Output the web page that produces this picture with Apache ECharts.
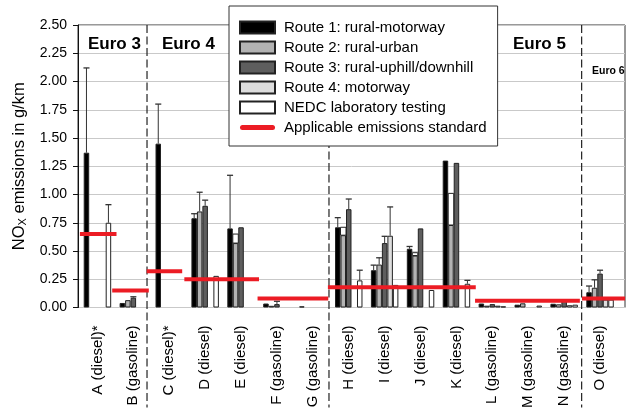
<!DOCTYPE html>
<html>
<head>
<meta charset="utf-8">
<script src="https://cdn.jsdelivr.net/npm/echarts@6/dist/echarts.min.js"></script>
<style>
  html, body { margin: 0; padding: 0; background: #fff; }
  #chart { width: 633px; height: 414px; }
</style>
</head>
<body>
<div id="chart"></div>
<script>
// Vehicles tested, grouped by emission class
const categories = ['A (diesel)*', 'B (gasoline)', 'C (diesel)*', 'D (diesel)', 'E (diesel)',
  'F (gasoline)', 'G (gasoline)', 'H (diesel)', 'I (diesel)', 'J (diesel)', 'K (diesel)',
  'L (gasoline)', 'M (gasoline)', 'N (gasoline)', 'O (diesel)'];

const routeNames = ['Route 1: rural-motorway', 'Route 2: rural-urban', 'Route 3: rural-uphill/downhill',
  'Route 4: motorway', 'NEDC laboratory testing'];
const standardName = 'Applicable emissions standard';

// Mean NOx emissions in g/km (null = not tested)
const route1 = [1.37, 0.04, 1.45, 0.79, 0.70, 0.035, 0.01, 0.71, 0.33, 0.52, 1.30, 0.035, 0.025, 0.033, 0.135];
const route2 = [null, 0.065, null, 0.85, 0.57, 0.015, null, 0.64, 0.38, 0.46, 0.73, 0.016, 0.037, 0.028, 0.175];
const route3 = [null, 0.087, null, 0.90, 0.71, 0.03, null, 0.87, 0.57, 0.70, 1.28, 0.03, null, 0.075, 0.30];
const route4 = [null, null, null, null, null, null, null, null, 0.635, null, null, 0.016, null, 0.02, 0.07];
const nedc   = [0.75, null, null, 0.28, null, null, null, 0.24, 0.20, 0.155, 0.21, 0.01, 0.017, 0.025, 0.07];

// Upper ends of the error bars
const route1Err = [2.12, null, 1.80, 0.83, 1.17, null, null, 0.795, 0.375, 0.54, null, null, null, null, 0.19];
const route2Err = [null, null, null, 1.02, null, null, null, null, 0.44, null, null, null, null, null, 0.245];
const route3Err = [null, 0.095, null, 0.95, null, 0.055, null, 0.96, 0.63, null, null, null, null, null, 0.33];
const route4Err = [null, null, null, null, null, null, null, null, 0.89, null, null, null, null, null, null];
const nedcErr   = [0.91, null, null, null, null, null, null, 0.33, null, null, 0.24, null, null, null, null];
// Route 2 ranges drawn as an open box above the bar
const route2Range = [null, null, null, null, 0.65, null, null, 0.71, null, 0.485, 1.01, null, null, null, null];

// Emission limits: level (g/km) and the span of vehicles (category units) they apply to
const standardLevel = [0.65, 0.15, 0.32, 0.25, 0.08, 0.18, 0.06, 0.08];
const standardFrom  = [-0.49, 0.41, 1.37, 2.42, 4.46, 6.42, 10.52, 13.5];
const standardTo    = [0.53, 1.43, 2.36, 4.50, 6.43, 10.54, 13.44, 14.7];

// Boundaries between Euro classes (category units)
const euroBounds = [1.38, 6.45, 13.49];
const euroLabels = ['Euro 3', 'Euro 4', 'Euro 5', 'Euro 6'];

const yTicks = [0, 0.25, 0.5, 0.75, 1.0, 1.25, 1.5, 1.75, 2.0, 2.25, 2.5];

const FONT = '"Liberation Sans", Arial, Helvetica, sans-serif';
const routeColors = ['#000000', '#b3b3b3', '#5e5e5e', '#dddddd', '#ffffff'];
const RED = '#ec1c24';
const CAT_GAP = 0.235;

const routeValues = [route1, route2, route3, route4, nedc];
const routeErrors = [route1Err, route2Err, route3Err, route4Err, nedcErr];

const errorData = [];
routeErrors.forEach((errs, k) => {
  errs.forEach((hi, c) => {
    if (hi != null && routeValues[k][c] != null) errorData.push([c, k, routeValues[k][c], hi, 0]);
  });
});
route2Range.forEach((hi, c) => {
  if (hi != null) errorData.push([c, 1, route2[c], hi, 1]);
});

const standardData = standardLevel.map((v, i) => [standardFrom[i], standardTo[i], v]);

const barSeries = routeValues.map((vals, k) => ({
  type: 'bar',
  name: routeNames[k],
  xAxisIndex: 0,
  yAxisIndex: 0,
  data: vals.map(v => (v == null ? '-' : v)),
  barGap: '0%',
  barCategoryGap: (CAT_GAP * 100) + '%',
  itemStyle: { color: routeColors[k], borderColor: '#222', borderWidth: 1 },
  z: 3
}));

const chart = echarts.init(document.getElementById('chart'), null, { renderer: 'canvas' });

chart.setOption({
  animation: false,
  textStyle: { fontFamily: FONT },
  grid: [
    { left: 79.5, right: 15, top: 25, bottom: 106.5 },
    { left: 78, right: 8, top: 25, bottom: 106.5, show: true, borderColor: '#333', borderWidth: 1 }
  ],
  xAxis: [
    {
      type: 'category', gridIndex: 0, data: categories,
      axisLine: { show: false },
      axisTick: { alignWithLabel: true, length: 6, lineStyle: { color: '#333' } },
      axisLabel: {
        rotate: 90, interval: 0, margin: 18, fontSize: 15, color: '#000', fontFamily: FONT
      }
    },
    { type: 'value', gridIndex: 1, min: -0.543, max: 14.698, show: false }
  ],
  yAxis: [
    { type: 'value', gridIndex: 0, min: 0, max: 2.5, show: false },
    {
      type: 'value', gridIndex: 1, min: 0, max: 2.5, interval: 0.25,
      axisLine: { show: true, onZero: false, lineStyle: { color: '#111' } },
      axisTick: { show: true, length: 5, lineStyle: { color: '#111' } },
      axisLabel: {
        margin: 11, fontSize: 14, color: '#000', fontFamily: FONT,
        formatter: v => yTicks.includes(+v.toFixed(2)) ? v.toFixed(2) : ''
      },
      splitLine: { show: true, lineStyle: { color: '#c9c9c9', width: 1 } },
      name: '{a|NO}{b|X}{a| emissions in g/km}',
      nameLocation: 'middle',
      nameGap: 33,
      nameTextStyle: {
        fontFamily: FONT,
        rich: {
          a: { fontSize: 16.5, color: '#000', fontFamily: FONT },
          b: { fontSize: 11, color: '#000', fontFamily: FONT, verticalAlign: 'bottom', padding: [8, 0, 0, 0] }
        }
      }
    }
  ],
  legend: {
    orient: 'vertical',
    left: 229, top: 6,
    padding: [14, 11, 11, 10],
    itemWidth: 35, itemHeight: 12, itemGap: 5,
    backgroundColor: '#fff', borderColor: '#333', borderWidth: 1,
    selectedMode: false,
    textStyle: { fontSize: 15, color: '#000', fontFamily: FONT, padding: [0, 0, 0, 4] },
    data: routeNames.map(n => ({ name: n, icon: 'rect' })).concat([{
      name: standardName,
      icon: 'path://M2.5,0 L32.5,0 A2.5,2.5 0 0 1 32.5,5 L2.5,5 A2.5,2.5 0 0 1 2.5,0 Z',
      itemStyle: { color: RED, borderWidth: 0 }
    }]),
    z: 20
  },
  graphic: [
    { type: 'text', left: 88, top: 36, style: { text: euroLabels[0], font: 'bold 17px ' + FONT, fill: '#000' } },
    { type: 'text', left: 162, top: 36, style: { text: euroLabels[1], font: 'bold 17px ' + FONT, fill: '#000' } },
    { type: 'text', left: 513, top: 36, style: { text: euroLabels[2], font: 'bold 17px ' + FONT, fill: '#000' } },
    { type: 'text', left: 592, top: 66, style: { text: euroLabels[3], font: 'bold 10.5px ' + FONT, fill: '#000' } }
  ],
  series: barSeries.concat([
    {
      type: 'custom',
      name: 'errors',
      xAxisIndex: 0, yAxisIndex: 0,
      data: errorData,
      encode: { x: 0, y: [2, 3] },
      z: 4,
      renderItem: (params, api) => {
        const cat = api.value(0), k = api.value(1), lo = api.value(2), hi = api.value(3), kind = api.value(4);
        const band = api.size([1, 0])[0];
        const w = band * (1 - CAT_GAP) / 5;
        const base = api.coord([cat, lo]);
        const top = api.coord([cat, hi]);
        const x = base[0] + (k - 2) * w;
        if (kind === 1) {
          return {
            type: 'rect',
            shape: { x: x - w / 2, y: top[1], width: w, height: base[1] - top[1] },
            style: { fill: '#fff', stroke: '#222', lineWidth: 1 }
          };
        }
        return {
          type: 'group',
          children: [
            { type: 'line', shape: { x1: x, y1: base[1], x2: x, y2: top[1] }, style: { stroke: '#333', lineWidth: 1 } },
            { type: 'line', shape: { x1: x - w * 0.55, y1: top[1], x2: x + w * 0.55, y2: top[1] }, style: { stroke: '#333', lineWidth: 1.3 } }
          ]
        };
      }
    },
    {
      type: 'custom',
      name: 'euroBounds',
      xAxisIndex: 1, yAxisIndex: 1,
      data: euroBounds.map(b => [b]),
      encode: { x: 0 },
      z: 2,
      silent: true,
      renderItem: (params, api) => {
        const b = api.value(0);
        const p1 = api.coord([b, 2.5]);
        const p2 = api.coord([b, -0.885]);
        return {
          type: 'line',
          shape: { x1: p1[0], y1: p1[1], x2: p2[0], y2: p2[1] },
          style: { stroke: '#222', lineWidth: 1.2, lineDash: [8, 3.5] }
        };
      }
    },
    {
      type: 'custom',
      name: standardName,
      xAxisIndex: 1, yAxisIndex: 1,
      data: standardData,
      encode: { x: [0, 1], y: 2 },
      itemStyle: { color: RED },
      z: 6,
      renderItem: (params, api) => {
        const p1 = api.coord([api.value(0), api.value(2)]);
        const p2 = api.coord([api.value(1), api.value(2)]);
        return {
          type: 'line',
          shape: { x1: p1[0], y1: p1[1], x2: p2[0], y2: p2[1] },
          style: { stroke: RED, lineWidth: 4 }
        };
      }
    }
  ])
});
</script>
</body>
</html>
